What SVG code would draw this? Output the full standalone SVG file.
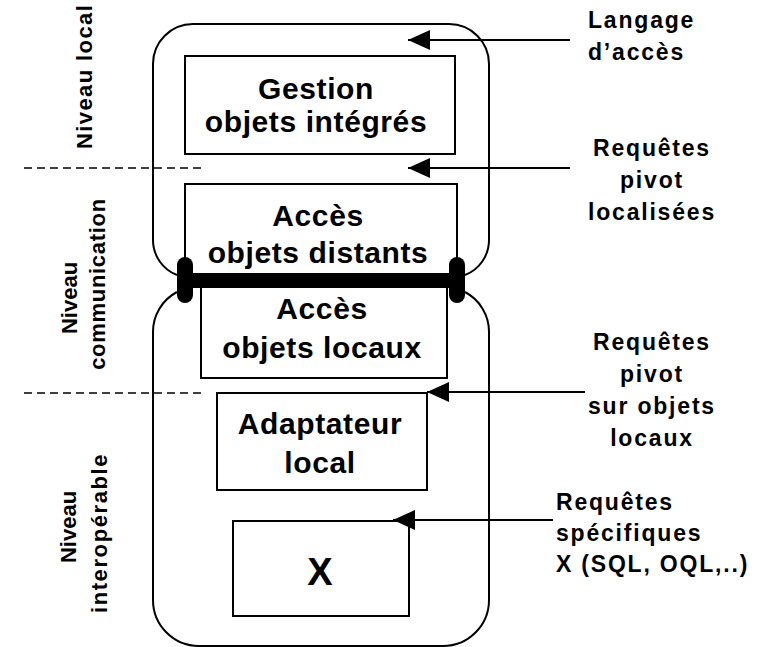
<svg xmlns="http://www.w3.org/2000/svg" width="762" height="647" viewBox="0 0 762 647">
<style>
.c{fill:none;stroke:#000;stroke-width:2}
.b{fill:#fff;stroke:#000;stroke-width:2}
.t{font-family:"Liberation Sans",Arial,sans-serif;font-weight:bold;fill:#000}
.bt{font-size:30px;letter-spacing:0.6px;text-anchor:middle}
.lt{font-size:23px;letter-spacing:1.8px}
.vt{font-size:22px}
.d{stroke:#000;stroke-width:1.5;stroke-dasharray:8 5;fill:none}
.a{stroke:#000;stroke-width:2;fill:none}
</style>
<defs>
<marker id="ah" markerWidth="22" markerHeight="20" refX="22" refY="10" orient="auto" markerUnits="userSpaceOnUse">
<path d="M0,0 L22,10 L0,20 Z" fill="#000"/>
</marker>
</defs>
<rect width="762" height="647" fill="#fff"/>

<g id="levels">
<line class="d" x1="24" y1="168" x2="202" y2="168"/>
<line class="d" x1="24" y1="393" x2="202" y2="393"/>
<text class="t vt" letter-spacing="1.4" transform="translate(92,149) rotate(-90)">Niveau local</text>
<text class="t vt" text-anchor="middle" transform="translate(77,298) rotate(-90)">Niveau</text>
<text class="t vt" text-anchor="middle" letter-spacing="0.7" transform="translate(105,284) rotate(-90)">communication</text>
<text class="t vt" text-anchor="middle" transform="translate(76,527) rotate(-90)">Niveau</text>
<text class="t vt" text-anchor="middle" letter-spacing="1.6" transform="translate(107,533) rotate(-90)">interopérable</text>
</g>

<g id="container-top">
<path class="c" d="M177,275 A37.5,37.5 0 0 1 153,240 L153,64 A40,40 0 0 1 193,24 L449,24 A40,40 0 0 1 489,64 L489,240 A37.5,37.5 0 0 1 465,275"/>
</g>
<g id="container-bottom">
<path class="c" d="M177,292 A45,45 0 0 0 153,332 L153,600 A46,46 0 0 0 199,646 L443,646 A46,46 0 0 0 489,600 L489,332 A45,45 0 0 0 465,292"/>
</g>

<g id="gestion">
<rect class="b" x="185" y="56" width="270" height="98"/>
<text class="t bt" x="316" y="99">Gestion</text>
<text class="t bt" x="316" y="132">objets intégrés</text>
</g>

<g id="acces-distants">
<rect class="b" x="185" y="184" width="272" height="92"/>
<text class="t bt" x="318" y="226">Accès</text>
<text class="t bt" x="318" y="263">objets distants</text>
</g>

<g id="acces-locaux">
<rect class="b" x="201" y="284" width="246" height="94"/>
<text class="t bt" x="322" y="319">Accès</text>
<text class="t bt" x="322" y="358">objets locaux</text>
</g>

<g id="bus">
<line x1="185" y1="280.5" x2="457" y2="280.5" stroke="#000" stroke-width="15"/>
<rect x="177" y="257" width="16" height="46" rx="8" fill="#000"/>
<rect x="449" y="257" width="16" height="46" rx="8" fill="#000"/>
</g>

<g id="adaptateur">
<rect class="b" x="217" y="393" width="210" height="97"/>
<text class="t bt" x="320" y="434">Adaptateur</text>
<text class="t bt" x="320" y="473">local</text>
</g>

<g id="x">
<rect class="b" x="233" y="521" width="176" height="95"/>
<text class="t" x="320" y="585" font-size="38" text-anchor="middle">X</text>
</g>

<g id="connectors">
<line class="a" x1="570" y1="40" x2="408" y2="40" marker-end="url(#ah)"/>
<line class="a" x1="570" y1="168" x2="408" y2="168" marker-end="url(#ah)"/>
<line class="a" x1="585" y1="392" x2="427" y2="392" marker-end="url(#ah)"/>
<line class="a" x1="553" y1="520" x2="393" y2="520" marker-end="url(#ah)"/>
</g>

<g id="labels">
<text class="t lt" x="588" y="28">Langage</text>
<text class="t lt" x="588" y="60">d’accès</text>
<text class="t lt" text-anchor="middle" x="652" y="156">Requêtes</text>
<text class="t lt" text-anchor="middle" x="652" y="188">pivot</text>
<text class="t lt" text-anchor="middle" x="652" y="220">localisées</text>
<text class="t lt" text-anchor="middle" x="652" y="350">Requêtes</text>
<text class="t lt" text-anchor="middle" x="652" y="382">pivot</text>
<text class="t lt" text-anchor="middle" x="652" y="414">sur objets</text>
<text class="t lt" text-anchor="middle" x="652" y="446">locaux</text>
<text class="t lt" x="556" y="510">Requêtes</text>
<text class="t lt" x="556" y="541">spécifiques</text>
<text class="t lt" x="556" y="572" letter-spacing="1.2">X (SQL, OQL,..)</text>
</g>
</svg>
